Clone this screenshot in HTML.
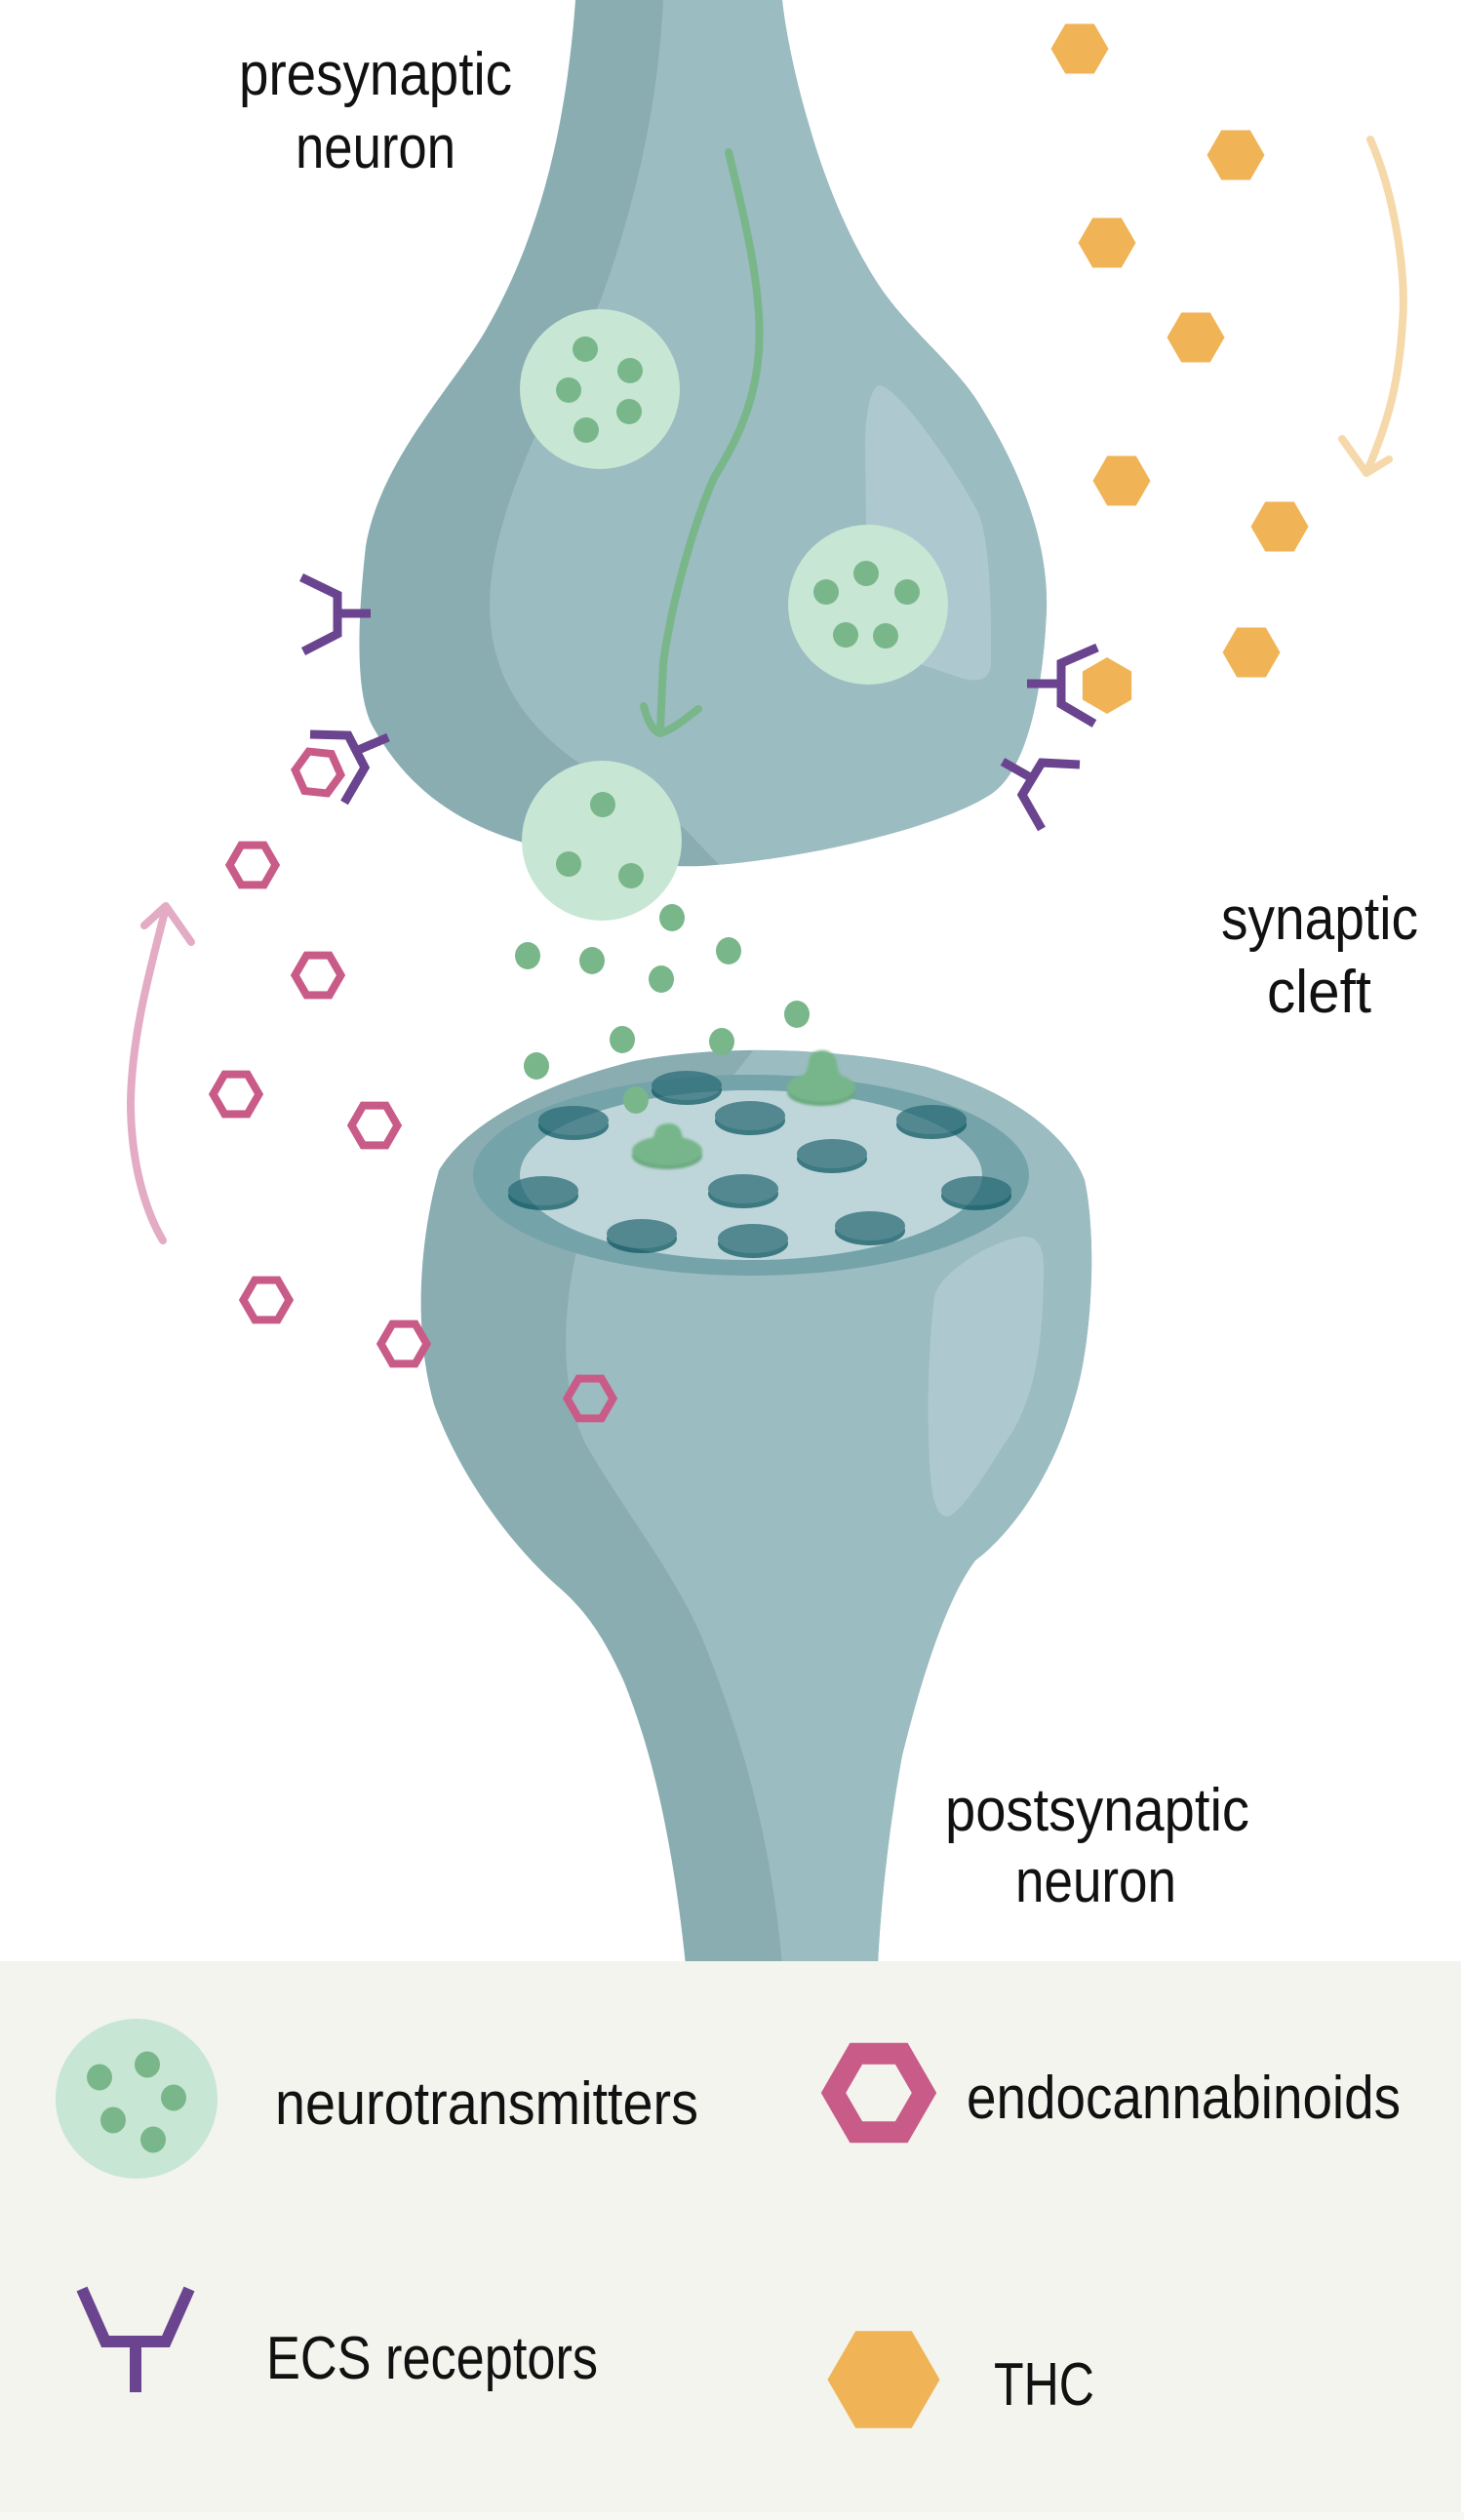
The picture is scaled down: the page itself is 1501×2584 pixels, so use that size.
<!DOCTYPE html>
<html>
<head>
<meta charset="utf-8">
<style>
html,body{margin:0;padding:0;background:#ffffff;}
svg{display:block;}
text{font-family:"Liberation Sans",Arial,sans-serif;font-size:62px;fill:#111;}
</style>
</head>
<body>
<svg width="1501" height="2584" viewBox="0 0 1501 2584" xmlns="http://www.w3.org/2000/svg">
<defs>
  <clipPath id="preClip">
    <path d="M590,0 C582,110 560,230 500,335 C470,390 390,470 375,560 C365,650 365,720 385,750 C420,810 470,845 540,865 C600,882 680,890 720,888 C820,882 960,850 1015,815 C1055,790 1070,700 1073,625 C1075,560 1050,490 1008,421 C985,380 940,345 910,305 C880,265 850,200 830,130 C815,80 805,30 802,0 Z"/>
  </clipPath>
  <clipPath id="postClip">
    <path d="M703,2015 C690,1890 670,1800 640,1725 C620,1680 600,1650 570,1625 C520,1580 470,1510 445,1440 C425,1370 428,1280 450,1200 C480,1150 560,1110 650,1088 C740,1070 860,1075 950,1094 C1040,1120 1095,1165 1112,1210 C1125,1270 1120,1380 1100,1440 C1080,1510 1040,1570 1000,1600 C970,1640 945,1720 925,1800 C912,1870 903,1950 900,2015 Z"/>
  </clipPath>
  <filter id="soft" x="-20%" y="-20%" width="140%" height="140%">
    <feGaussianBlur stdDeviation="1.3"/>
  </filter>
</defs>

<!-- ============ PRESYNAPTIC NEURON ============ -->
<path fill="#8aadb2" d="M590,0 C582,110 560,230 500,335 C470,390 390,470 375,560 C365,650 365,720 385,750 C420,810 470,845 540,865 C600,882 680,890 720,888 C820,882 960,850 1015,815 C1055,790 1070,700 1073,625 C1075,560 1050,490 1008,421 C985,380 940,345 910,305 C880,265 850,200 830,130 C815,80 805,30 802,0 Z"/>
<g clip-path="url(#preClip)">
  <path fill="#9bbcc1" d="M680,0 C675,100 655,200 615,310 C555,430 503,530 502,620 C502,690 535,740 590,780 L700,848 L750,900 L1200,900 L1200,0 Z"/>
  <path fill="#adc9cf" d="M902,395 C925,400 985,490 1003,526 C1017,560 1016,640 1016,680 C1016,698 1000,700 985,695 L940,680 L889,600 L887,460 C887,420 893,397 902,395 Z"/>
</g>

<!-- green arrow -->
<path d="M747,156 C765,230 782,300 778,360 C774,420 750,460 732,490 C710,540 688,620 680,680 L677,748" fill="none" stroke="#79b78a" stroke-width="8" stroke-linecap="round"/>
<path d="M660,724 C664,740 670,750 677,752 C690,748 704,736 716,727" fill="none" stroke="#79b78a" stroke-width="8" stroke-linecap="round" stroke-linejoin="round"/>

<!-- vesicles in presynaptic -->
<circle cx="615" cy="399" r="82" fill="#c8e6d4"/>
<g fill="#79b78a">
  <circle cx="600" cy="358" r="13"/>
  <circle cx="646" cy="380" r="13"/>
  <circle cx="583" cy="400" r="13"/>
  <circle cx="645" cy="422" r="13"/>
  <circle cx="601" cy="441" r="13"/>
</g>
<circle cx="890" cy="620" r="82" fill="#c8e6d4"/>
<g fill="#79b78a">
  <circle cx="888" cy="588" r="13"/>
  <circle cx="847" cy="607" r="13"/>
  <circle cx="930" cy="607" r="13"/>
  <circle cx="867" cy="651" r="13"/>
  <circle cx="908" cy="652" r="13"/>
</g>
<circle cx="617" cy="862" r="82" fill="#c8e6d4"/>
<g fill="#79b78a">
  <circle cx="618" cy="825" r="13"/>
  <circle cx="583" cy="886" r="13"/>
  <circle cx="647" cy="898" r="13"/>
</g>

<!-- receptors (presynaptic) -->
<g fill="none" stroke="#6a448f" stroke-width="9" stroke-linejoin="miter">
  <polyline points="309,592 346,610 346,650 311,668"/>
  <line x1="346" y1="629" x2="380" y2="629"/>
  <polyline points="318,753 357,754 374,787 353,823"/>
  <line x1="365" y1="770" x2="398" y2="756"/>
  <polyline points="1125,664 1088,680 1088,722 1122,742"/>
  <line x1="1088" y1="701" x2="1053" y2="701"/>
  <polyline points="1107,784 1068,782 1048,815 1068,850"/>
  <line x1="1058" y1="798" x2="1028" y2="781"/>
</g>

<!-- THC hexagons -->
<g fill="#f0b356">
  <polygon transform="translate(1107,50)" points="-29.5,0 -14.75,-25.5 14.75,-25.5 29.5,0 14.75,25.5 -14.75,25.5"/>
  <polygon transform="translate(1267,159)" points="-29.5,0 -14.75,-25.5 14.75,-25.5 29.5,0 14.75,25.5 -14.75,25.5"/>
  <polygon transform="translate(1135,249)" points="-29.5,0 -14.75,-25.5 14.75,-25.5 29.5,0 14.75,25.5 -14.75,25.5"/>
  <polygon transform="translate(1226,346)" points="-29.5,0 -14.75,-25.5 14.75,-25.5 29.5,0 14.75,25.5 -14.75,25.5"/>
  <polygon transform="translate(1150,493)" points="-29.5,0 -14.75,-25.5 14.75,-25.5 29.5,0 14.75,25.5 -14.75,25.5"/>
  <polygon transform="translate(1312,540)" points="-29.5,0 -14.75,-25.5 14.75,-25.5 29.5,0 14.75,25.5 -14.75,25.5"/>
  <polygon transform="translate(1283,669)" points="-29.5,0 -14.75,-25.5 14.75,-25.5 29.5,0 14.75,25.5 -14.75,25.5"/>
  <polygon transform="translate(1135,703)" points="0,-29 25.1,-14.5 25.1,14.5 0,29 -25.1,14.5 -25.1,-14.5"/>
</g>

<!-- orange arrow -->
<path d="M1405,143 C1430,200 1442,280 1438,330 C1434,400 1420,440 1401,485" fill="none" stroke="#f6d9aa" stroke-width="8" stroke-linecap="round"/>
<polyline points="1376,450 1401,485 1424,471" fill="none" stroke="#f6d9aa" stroke-width="8" stroke-linecap="round" stroke-linejoin="round"/>

<!-- pink arrow -->
<path d="M170,931 C155,990 135,1060 134,1130 C134,1190 148,1240 167,1272" fill="none" stroke="#e3abc4" stroke-width="8" stroke-linecap="round"/>
<polyline points="148,949 170,929 196,966" fill="none" stroke="#e3abc4" stroke-width="8" stroke-linecap="round" stroke-linejoin="round"/>

<!-- ============ POSTSYNAPTIC NEURON ============ -->
<path fill="#8aadb2" d="M703,2015 C690,1890 670,1800 640,1725 C620,1680 600,1650 570,1625 C520,1580 470,1510 445,1440 C425,1370 428,1280 450,1200 C480,1150 560,1110 650,1088 C740,1070 860,1075 950,1094 C1040,1120 1095,1165 1112,1210 C1125,1270 1120,1380 1100,1440 C1080,1510 1040,1570 1000,1600 C970,1640 945,1720 925,1800 C912,1870 903,1950 900,2015 Z"/>
<g clip-path="url(#postClip)">
  <path fill="#9bbcc1" d="M782,1065 L750,1105 L600,1250 C575,1330 572,1420 600,1480 C640,1550 690,1610 720,1680 C760,1780 790,1880 802,2015 L1200,2015 L1200,1065 Z"/>
  <path fill="#adc9cf" d="M1050,1268 C1065,1268 1070,1280 1070,1300 C1070,1380 1060,1440 1030,1480 C1005,1520 985,1550 972,1555 C958,1555 955,1530 953,1500 C950,1440 952,1380 958,1330 C962,1305 1020,1270 1050,1268 Z"/>
</g>
<ellipse cx="770" cy="1205" rx="285" ry="103" fill="#74a3a9"/>
<ellipse cx="770" cy="1205" rx="237" ry="87" fill="#bed6da"/>

<!-- receptor discs -->
<g opacity="0.72">
  <g><ellipse cx="704" cy="1118" rx="36" ry="15" fill="#0b5660"/><ellipse cx="704" cy="1113" rx="36" ry="15" fill="#2a6b76"/></g>
  <g><ellipse cx="588" cy="1154" rx="36" ry="15" fill="#0b5660"/><ellipse cx="588" cy="1149" rx="36" ry="15" fill="#2a6b76"/></g>
  <g><ellipse cx="769" cy="1149" rx="36" ry="15" fill="#0b5660"/><ellipse cx="769" cy="1144" rx="36" ry="15" fill="#2a6b76"/></g>
  <g><ellipse cx="955" cy="1153" rx="36" ry="15" fill="#0b5660"/><ellipse cx="955" cy="1148" rx="36" ry="15" fill="#2a6b76"/></g>
  <g><ellipse cx="853" cy="1188" rx="36" ry="15" fill="#0b5660"/><ellipse cx="853" cy="1183" rx="36" ry="15" fill="#2a6b76"/></g>
  <g><ellipse cx="557" cy="1226" rx="36" ry="15" fill="#0b5660"/><ellipse cx="557" cy="1221" rx="36" ry="15" fill="#2a6b76"/></g>
  <g><ellipse cx="762" cy="1224" rx="36" ry="15" fill="#0b5660"/><ellipse cx="762" cy="1219" rx="36" ry="15" fill="#2a6b76"/></g>
  <g><ellipse cx="1001" cy="1226" rx="36" ry="15" fill="#0b5660"/><ellipse cx="1001" cy="1221" rx="36" ry="15" fill="#2a6b76"/></g>
  <g><ellipse cx="658" cy="1270" rx="36" ry="15" fill="#0b5660"/><ellipse cx="658" cy="1265" rx="36" ry="15" fill="#2a6b76"/></g>
  <g><ellipse cx="772" cy="1275" rx="36" ry="15" fill="#0b5660"/><ellipse cx="772" cy="1270" rx="36" ry="15" fill="#2a6b76"/></g>
  <g><ellipse cx="892" cy="1262" rx="36" ry="15" fill="#0b5660"/><ellipse cx="892" cy="1257" rx="36" ry="15" fill="#2a6b76"/></g>
</g>

<!-- bound receptors (green) -->
<g fill="#77b68a" filter="url(#soft)">
  <ellipse cx="842" cy="1120" rx="35" ry="14" fill="#6aa87e"/>
  <ellipse cx="842" cy="1115" rx="35" ry="15"/>
  <path d="M812,1112 C826,1106 828,1095 829,1090 C830,1080 836,1077 843,1077 C851,1077 857,1082 858,1090 C859,1096 860,1106 874,1112 Z"/>
  <ellipse cx="684" cy="1185" rx="36" ry="14" fill="#6aa87e"/>
  <ellipse cx="684" cy="1180" rx="36" ry="15"/>
  <path d="M653,1177 C667,1172 670,1166 671,1163 C672,1155 678,1152 686,1152 C693,1152 698,1156 699,1163 C700,1168 703,1172 716,1177 Z"/>
</g>

<!-- floating neurotransmitters -->
<g fill="#79b78a">
  <ellipse cx="689" cy="941" rx="13" ry="14"/>
  <ellipse cx="541" cy="980" rx="13" ry="14"/>
  <ellipse cx="607" cy="985" rx="13" ry="14"/>
  <ellipse cx="747" cy="975" rx="13" ry="14"/>
  <ellipse cx="678" cy="1004" rx="13" ry="14"/>
  <ellipse cx="817" cy="1040" rx="13" ry="14"/>
  <ellipse cx="638" cy="1066" rx="13" ry="14"/>
  <ellipse cx="740" cy="1068" rx="13" ry="14"/>
  <ellipse cx="550" cy="1093" rx="13" ry="14"/>
  <ellipse cx="652" cy="1128" rx="13" ry="14"/>
</g>

<!-- endocannabinoids (pink outline hexagons) -->
<g fill="none" stroke="#c95b88" stroke-width="8">
  <polygon transform="translate(326,792) rotate(6)" points="-23.5,0 -11.75,-20.35 11.75,-20.35 23.5,0 11.75,20.35 -11.75,20.35"/>
  <polygon transform="translate(259,887)" points="-23.5,0 -11.75,-20.35 11.75,-20.35 23.5,0 11.75,20.35 -11.75,20.35"/>
  <polygon transform="translate(326,1000)" points="-23.5,0 -11.75,-20.35 11.75,-20.35 23.5,0 11.75,20.35 -11.75,20.35"/>
  <polygon transform="translate(242,1122)" points="-23.5,0 -11.75,-20.35 11.75,-20.35 23.5,0 11.75,20.35 -11.75,20.35"/>
  <polygon transform="translate(384,1154)" points="-23.5,0 -11.75,-20.35 11.75,-20.35 23.5,0 11.75,20.35 -11.75,20.35"/>
  <polygon transform="translate(273,1333)" points="-23.5,0 -11.75,-20.35 11.75,-20.35 23.5,0 11.75,20.35 -11.75,20.35"/>
  <polygon transform="translate(414,1378)" points="-23.5,0 -11.75,-20.35 11.75,-20.35 23.5,0 11.75,20.35 -11.75,20.35"/>
  <polygon transform="translate(605,1434)" points="-23.5,0 -11.75,-20.35 11.75,-20.35 23.5,0 11.75,20.35 -11.75,20.35"/>
</g>

<!-- labels -->
<text x="245" y="97" textLength="280" lengthAdjust="spacingAndGlyphs">presynaptic</text>
<text x="303" y="172" textLength="164" lengthAdjust="spacingAndGlyphs">neuron</text>
<text x="1252" y="963" textLength="202" lengthAdjust="spacingAndGlyphs">synaptic</text>
<text x="1299" y="1038" textLength="107" lengthAdjust="spacingAndGlyphs">cleft</text>
<text x="969" y="1877" textLength="312" lengthAdjust="spacingAndGlyphs">postsynaptic</text>
<text x="1041" y="1950" textLength="165" lengthAdjust="spacingAndGlyphs">neuron</text>

<!-- ============ LEGEND ============ -->
<rect x="0" y="2011" width="1498" height="573" fill="#f3f4ed"/>
<rect x="0" y="2576" width="1501" height="8" fill="#f7f7f3"/>

<ellipse cx="140" cy="2152" rx="83" ry="82" fill="#c8e6d4"/>
<g fill="#79b78a">
  <ellipse cx="102" cy="2130" rx="13" ry="13.5"/>
  <ellipse cx="151" cy="2117" rx="13" ry="13.5"/>
  <ellipse cx="178" cy="2151" rx="13" ry="13.5"/>
  <ellipse cx="116" cy="2174" rx="13" ry="13.5"/>
  <ellipse cx="157" cy="2194" rx="13" ry="13.5"/>
</g>
<text x="282" y="2178" textLength="434" lengthAdjust="spacingAndGlyphs">neurotransmitters</text>

<polygon transform="translate(901,2146)" points="-46.5,0 -23.25,-40.3 23.25,-40.3 46.5,0 23.25,40.3 -23.25,40.3" fill="none" stroke="#c95b88" stroke-width="22"/>
<text x="991" y="2172" textLength="445" lengthAdjust="spacingAndGlyphs">endocannabinoids</text>

<g fill="none" stroke="#6a448f" stroke-width="12" stroke-linejoin="miter">
  <polyline points="84,2347 108,2401 170,2401 194,2347"/>
  <line x1="139" y1="2401" x2="139" y2="2453"/>
</g>
<text x="273" y="2439" textLength="340" lengthAdjust="spacingAndGlyphs">ECS receptors</text>

<polygon transform="translate(906,2440)" points="-57.5,0 -28.75,-49.8 28.75,-49.8 57.5,0 28.75,49.8 -28.75,49.8" fill="#f0b356"/>
<text x="1019" y="2466" textLength="103" lengthAdjust="spacingAndGlyphs">THC</text>
</svg>
</body>
</html>
